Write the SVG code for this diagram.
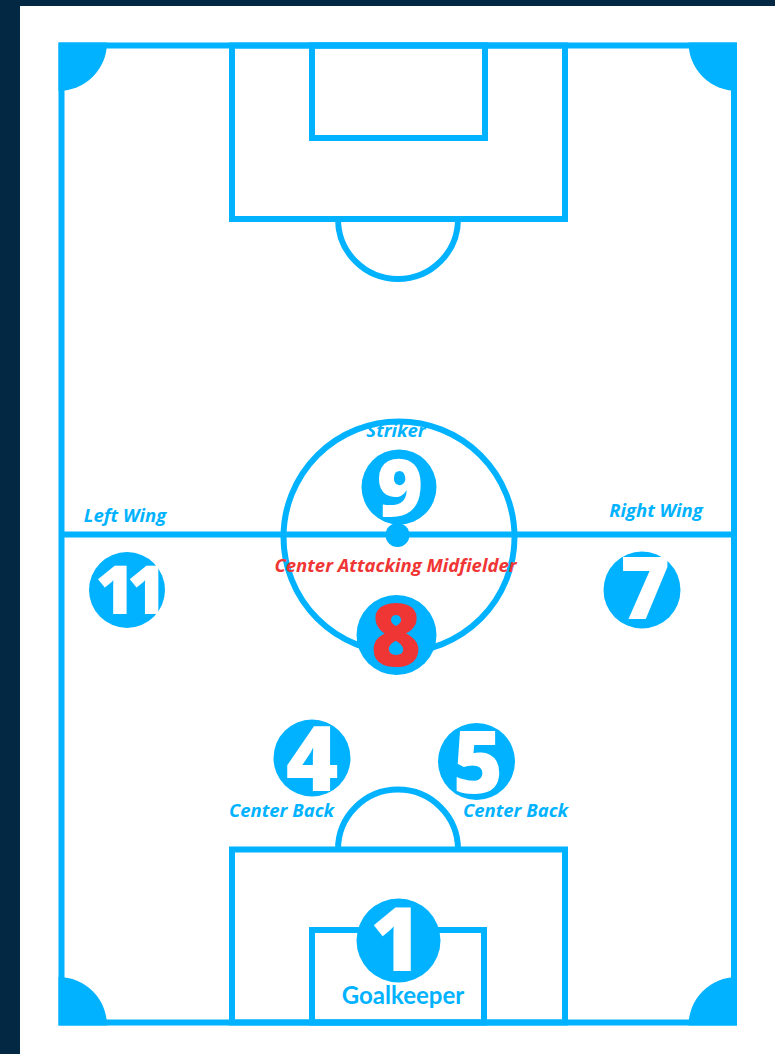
<svg xmlns="http://www.w3.org/2000/svg" width="775" height="1054" viewBox="0 0 775 1054">
<style>
.line{fill:none;stroke:#00b2ff;stroke-width:6}
.fill{fill:#00b2ff}
.disc{fill:#00b2ff}
.num{font-family:"Open Sans","DejaVu Sans",sans-serif;font-weight:800;fill:#ffffff;text-anchor:middle}
.lbl{font-family:"Open Sans","DejaVu Sans",sans-serif;font-weight:700;font-style:italic;font-size:18.5px;fill:#00b2ff;text-anchor:middle}
.red{fill:#f03535}
</style>
<rect x="0" y="0" width="775" height="1054" fill="#022844"/>
<rect x="20" y="6" width="755" height="1048" fill="#ffffff"/>
<g id="pitch">
<path class="fill" d="M58.5 42.5 H107 A48.5 48.5 0 0 1 58.5 91 Z"/>
<path class="fill" d="M737 42.5 V91 A48.5 48.5 0 0 1 688.5 42.5 Z"/>
<path class="fill" d="M58.5 1025.5 V977 A48.5 48.5 0 0 1 107 1025.5 Z"/>
<path class="fill" d="M737 1025.5 H688.5 A48.5 48.5 0 0 1 737 977 Z"/>
<rect class="line" x="61.5" y="45.5" width="672.5" height="977"/>
<line class="line" x1="61.5" y1="534.5" x2="734" y2="534.5"/>
<rect class="line" x="232" y="45.5" width="333" height="173.5"/>
<rect class="line" x="312" y="45.5" width="173" height="92.5"/>
<path class="line" d="M338 219 A60 60 0 0 0 458 219"/>
<circle class="line" cx="399" cy="537" r="115.5"/>
<circle class="fill" cx="397.5" cy="535" r="12"/>
<rect class="line" x="232" y="849.5" width="333" height="173"/>
<rect class="line" x="312" y="930" width="172" height="92.5"/>
<path class="line" d="M338 849.5 A60 60 0 0 1 458 849.5"/>
</g>
<g id="connectors"></g>
<g id="striker">
<circle class="disc" cx="399" cy="487" r="37.5"/>
<text class="num" x="400" y="516" font-size="80">9</text>
<text class="lbl" x="396" y="437">Striker</text>
</g>
<g id="cam">
<circle class="disc" cx="396.5" cy="635" r="40"/>
<text class="num red" x="396" y="666" font-size="86">8</text>
<text class="lbl red" x="395.5" y="572">Center Attacking Midfielder</text>
</g>
<g id="left-wing">
<circle class="disc" cx="127" cy="590" r="38"/>
<text class="num" x="127" y="614" font-size="68" letter-spacing="-8">11</text>
<text class="lbl" x="125" y="522">Left Wing</text>
</g>
<g id="right-wing">
<circle class="disc" cx="642" cy="590" r="38.5"/>
<text class="num" x="645" y="619" font-size="86">7</text>
<text class="lbl" x="656" y="517">Right Wing</text>
</g>
<g id="center-back-left">
<circle class="disc" cx="312" cy="758" r="38.5"/>
<text class="num" x="312" y="791" font-size="90">4</text>
<text class="lbl" x="281.5" y="817">Center Back</text>
</g>
<g id="center-back-right">
<circle class="disc" cx="476.5" cy="761.5" r="38.5"/>
<text class="num" x="478" y="793" font-size="86">5</text>
<text class="lbl" x="515.5" y="817">Center Back</text>
</g>
<g id="goalkeeper">
<circle class="disc" cx="398.5" cy="940.5" r="42"/>
<text class="num" x="396" y="971" font-size="88">1</text>
<text x="403" y="1004" font-family="Lato,'Open Sans',sans-serif" font-weight="700" font-size="24" fill="#00b2ff" text-anchor="middle">Goalkeeper</text>
</g>
</svg>
